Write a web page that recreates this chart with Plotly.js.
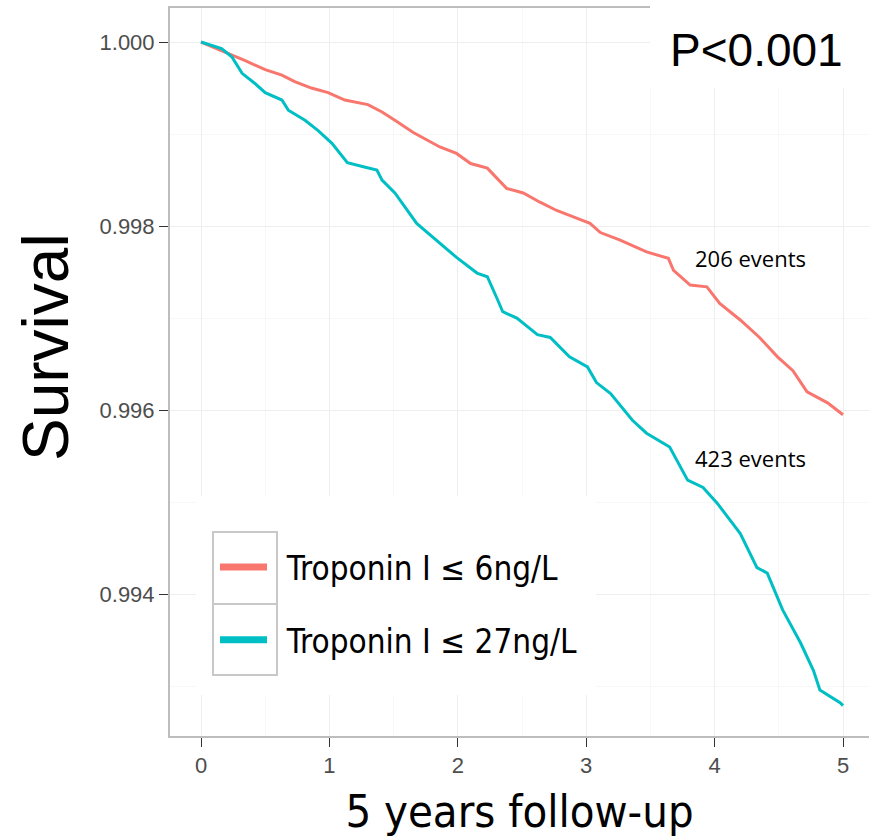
<!DOCTYPE html>
<html>
<head>
<meta charset="utf-8">
<script src="https://cdn.plot.ly/plotly-3.0.1.min.js"></script>
<style>html,body{margin:0;padding:0;background:#fff;}#chart{width:869px;height:838px;}</style>
</head>
<body>
<div id="chart"></div>
<script>
// Follow-up time (years) and survival for each group
const yearsLow = [0,0.21,0.34,0.50,0.63,0.73,0.86,0.99,1.12,1.30,1.41,1.51,1.65,1.86,1.99,2.10,2.23,2.38,2.51,2.64,2.77,2.90,3.03,3.11,3.26,3.47,3.64,3.68,3.81,3.94,4.04,4.20,4.35,4.49,4.61,4.72,4.88,5.0];
const survLow = [1.0,0.99988,0.99980,0.99970,0.99964,0.99957,0.99950,0.99945,0.99937,0.99932,0.99924,0.99915,0.99902,0.99886,0.99879,0.99868,0.99863,0.99841,0.99836,0.99826,0.99817,0.99810,0.99803,0.99793,0.99785,0.99772,0.99765,0.99752,0.99736,0.99734,0.99716,0.99698,0.99679,0.99658,0.99643,0.99620,0.99608,0.99595];
const yearsHigh = [0,0.16,0.24,0.32,0.42,0.50,0.63,0.68,0.81,0.91,1.02,1.14,1.28,1.37,1.41,1.51,1.68,1.86,1.99,2.15,2.23,2.31,2.35,2.46,2.62,2.72,2.87,3.01,3.08,3.19,3.36,3.47,3.65,3.79,3.91,4.02,4.20,4.33,4.41,4.53,4.67,4.77,4.82,4.98,5.0];
const survHigh = [1.0,0.99993,0.99984,0.99966,0.99955,0.99945,0.99937,0.99926,0.99915,0.99904,0.99890,0.99869,0.99864,0.99861,0.99850,0.99836,0.99803,0.99782,0.99766,0.99749,0.99745,0.99720,0.99707,0.99700,0.99682,0.99679,0.99658,0.99647,0.99630,0.99618,0.99589,0.99575,0.99560,0.99524,0.99516,0.99499,0.99466,0.99429,0.99423,0.99383,0.99347,0.99317,0.99296,0.99282,0.99279];
const seriesNames = ["Troponin I \u2264 6ng/L", "Troponin I \u2264 27ng/L"];
const eventLabels = ["206 events", "423 events"];
const xTicks = [0,1,2,3,4,5];
const yTicks = [0.994,0.996,0.998,1.000];
const yTickText = ["0.994","0.996","0.998","1.000"];
const pLabel = "P<0.001";
const yTitle = "Survival";
const xTitle = "5 years follow-up";

const RED = "#F8766D", TEAL = "#00BFC4";
const narrow = "Liberation Sans Narrow, DejaVu Sans Condensed, Arial Narrow, sans-serif";
const L = 170, T = 8, W = 699, H = 728;
const px = v => (v - L) / W;          // pixel -> paper x
const py = v => (T + H - v) / H;      // pixel -> paper y

const traces = [
  {x: yearsLow, y: survLow, mode: "lines", line: {color: RED, width: 3}, showlegend: false, hoverinfo: "skip"},
  {x: yearsHigh, y: survHigh, mode: "lines", line: {color: TEAL, width: 3}, showlegend: false, hoverinfo: "skip"},
  {x: [null], y: [null], mode: "lines", name: "\u2002" + seriesNames[0], legendgroup: "a", line: {color: RED, width: 7}},
  {x: [null], y: [null], mode: "lines", name: "\u2002" + seriesNames[1], legendgroup: "b", line: {color: TEAL, width: 7}}
];

const layout = {
  width: 869, height: 838,
  margin: {l: L, r: 0, t: T, b: 838 - T - H},
  paper_bgcolor: "#fff", plot_bgcolor: "#fff",
  font: {family: "Liberation Sans, Arial, sans-serif", color: "#000"},
  showlegend: true,
  legend: {x: px(215), y: py(539), xanchor: "left", yanchor: "top",
    bgcolor: "rgba(0,0,0,0)", borderwidth: 0, tracegroupgap: 27, itemwidth: 47,
    font: {family: narrow, size: 33, color: "#000"}},
  xaxis: {range: [-0.2414, 5.2025], tickvals: xTicks, ticktext: xTicks.map(String),
    ticks: "outside", ticklen: 9, tickcolor: "#333", tickwidth: 1,
    tickfont: {size: 22, color: "#4d4d4d"},
    showgrid: true, gridcolor: "#eeeeee", gridwidth: 1,
    minor: {dtick: 0.5, tick0: 0.5, showgrid: true, gridcolor: "#f7f7f7", ticks: ""},
    showline: true, linecolor: "#bdbdbd", linewidth: 2, mirror: true, zeroline: false,
    title: {text: xTitle, font: {family: narrow, size: 45, color: "#000"}, standoff: 20}},
  yaxis: {range: [0.99246, 1.00037], tickvals: yTicks, ticktext: yTickText,
    ticks: "outside", ticklen: 9, tickcolor: "#333", tickwidth: 1,
    tickfont: {size: 22, color: "#4d4d4d"},
    showgrid: true, gridcolor: "#eeeeee", gridwidth: 1,
    minor: {dtick: 0.001, tick0: 0.993, showgrid: true, gridcolor: "#f7f7f7", ticks: ""},
    showline: true, linecolor: "#bdbdbd", linewidth: 2, mirror: true, zeroline: false},
  shapes: [
    {type: "rect", xref: "paper", yref: "paper", x0: px(650), x1: px(869), y0: py(88), y1: py(0),
      fillcolor: "#fff", line: {width: 0}, layer: "above"},
    {type: "rect", xref: "paper", yref: "paper", x0: px(196), x1: px(596), y0: py(695), y1: py(496),
      fillcolor: "#fff", line: {width: 0}, layer: "above"},
    {type: "rect", xref: "paper", yref: "paper", x0: px(213), x1: px(277), y0: py(604), y1: py(532),
      fillcolor: "rgba(0,0,0,0)", line: {color: "#c8c8c8", width: 2}, layer: "above"},
    {type: "rect", xref: "paper", yref: "paper", x0: px(213), x1: px(277), y0: py(675), y1: py(604),
      fillcolor: "rgba(0,0,0,0)", line: {color: "#c8c8c8", width: 2}, layer: "above"}
  ],
  annotations: [
    {xref: "paper", yref: "paper", x: px(46), y: py(347), text: yTitle, textangle: -90, showarrow: false,
      font: {size: 64, color: "#000"}, xanchor: "center", yanchor: "middle"},
    {xref: "paper", yref: "paper", x: px(756), y: py(50), text: pLabel, showarrow: false,
      font: {size: 46, color: "#000"}, xanchor: "center", yanchor: "middle"},
    {x: 3.83, y: 0.99765, xref: "x", yref: "y", text: eventLabels[0], showarrow: false,
      xanchor: "left", yanchor: "middle", font: {family: "Open Sans, Lato, sans-serif", size: 22, color: "#000"}},
    {x: 3.83, y: 0.99548, xref: "x", yref: "y", text: eventLabels[1], showarrow: false,
      xanchor: "left", yanchor: "middle", font: {family: "Open Sans, Lato, sans-serif", size: 22, color: "#000"}}
  ]
};

Plotly.newPlot("chart", traces, layout, {staticPlot: true, displayModeBar: false});
</script>
</body>
</html>
